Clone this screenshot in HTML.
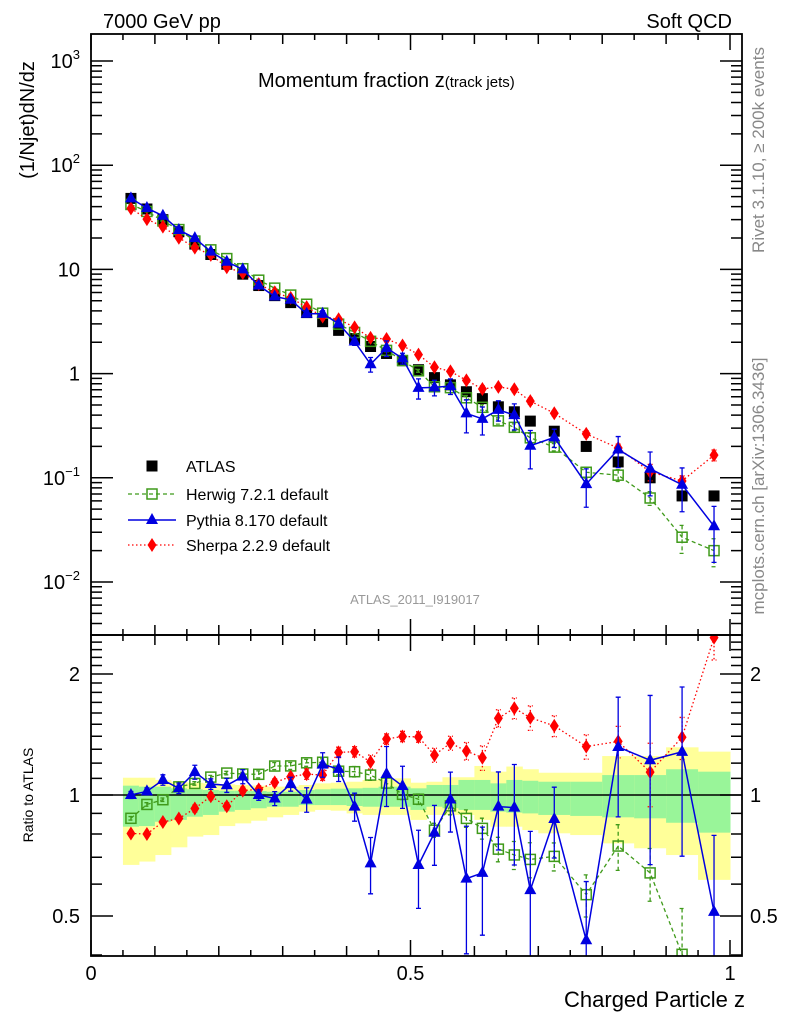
<!DOCTYPE html>
<html><head><meta charset="utf-8"><style>
html,body{margin:0;padding:0;background:#fff;}
svg{display:block;font-family:"Liberation Sans",Arial,sans-serif;}
</style></head><body>
<svg id="chart" xmlns="http://www.w3.org/2000/svg" width="786" height="1024" viewBox="0 0 786 1024">
<defs>
<clipPath id="clipMain"><rect x="91" y="34" width="651" height="601"/></clipPath>
<clipPath id="clipRatio"><rect x="91" y="635" width="651" height="321"/></clipPath>
</defs>
<g id="bands" clip-path="url(#clipRatio)"></g>
<g id="ratioMarks" clip-path="url(#clipRatio)"></g>
<g id="mainMarks" clip-path="url(#clipMain)"></g>
<g id="axes"></g>
<text x="103" y="28" font-size="20">7000 GeV pp</text>
<text x="732" y="28" font-size="20" text-anchor="end">Soft QCD</text>
<text x="258" y="87" font-size="20">Momentum fraction z<tspan font-size="15">(track jets)</tspan></text>
<text transform="translate(34,120) rotate(-90)" font-size="20" text-anchor="middle">(1/Njet)dN/dz</text>
<text transform="translate(33,795) rotate(-90)" font-size="14" text-anchor="middle">Ratio to ATLAS</text>
<text x="745" y="1007" font-size="22" text-anchor="end">Charged Particle z</text>
<text transform="translate(764,150) rotate(-90)" font-size="17" fill="#888" text-anchor="middle">Rivet 3.1.10, ≥ 200k events</text>
<text transform="translate(764,486) rotate(-90)" font-size="17" fill="#888" text-anchor="middle">mcplots.cern.ch [arXiv:1306.3436]</text>
<text x="415" y="604" font-size="13" fill="#999" text-anchor="middle">ATLAS_2011_I919017</text>
<g id="legend"></g>
</svg>
<script>
const zCenters=[0.0625,0.0875,0.1125,0.1375,0.1625,0.1875,0.2125,0.2375,0.2625,0.2875,0.3125,0.3375,0.3625,0.3875,0.4125,0.4375,0.4625,0.4875,0.5125,0.5375,0.5625,0.5875,0.6125,0.6375,0.6625,0.6875,0.725,0.775,0.825,0.875,0.925,0.975];
const binLo=[0.05,0.075,0.1,0.125,0.15,0.175,0.2,0.225,0.25,0.275,0.3,0.325,0.35,0.375,0.4,0.425,0.45,0.475,0.5,0.525,0.55,0.575,0.6,0.625,0.65,0.675,0.7,0.75,0.8,0.85,0.9,0.95];
const binHi=[0.075,0.1,0.125,0.15,0.175,0.2,0.225,0.25,0.275,0.3,0.325,0.35,0.375,0.4,0.425,0.45,0.475,0.5,0.525,0.55,0.575,0.6,0.625,0.65,0.675,0.7,0.75,0.8,0.85,0.9,0.95,1.0];
const atlas=[48,38,30,23,17.5,13.9,11.2,9.0,7.0,5.6,4.8,3.85,3.15,2.6,2.17,1.82,1.56,1.33,1.09,0.915,0.78,0.67,0.575,0.48,0.43,0.35,0.28,0.20,0.142,0.10,0.067,0.067];
const herwig=[42.0,36.0,29.2,24.1,18.7,15.4,12.7,10.15,7.88,6.61,5.67,4.63,3.80,2.98,2.48,2.04,1.67,1.335,1.064,0.748,0.733,0.586,0.475,0.352,0.305,0.242,0.197,0.113,0.106,0.064,0.0269,0.020];
const pythia=[48,38.8,32.7,23.9,19.95,14.8,11.84,10.0,7.0,5.49,5.11,3.75,3.75,3.02,2.03,1.23,1.76,1.40,0.730,0.737,0.760,0.415,0.368,0.449,0.400,0.203,0.244,0.087,0.187,0.122,0.0858,0.0343];
const sherpa=[38.5,30.4,25.7,20.1,16.2,13.8,10.5,9.23,7.23,6.02,5.33,4.34,3.53,3.32,2.78,2.20,2.15,1.86,1.52,1.15,1.05,0.862,0.712,0.745,0.707,0.545,0.416,0.264,0.193,0.114,0.0933,0.165];
const herwigErr=[0.01,0.01,0.01,0.01,0.01,0.01,0.01,0.01,0.02,0.02,0.02,0.02,0.02,0.02,0.03,0.03,0.03,0.03,0.03,0.04,0.05,0.05,0.06,0.07,0.08,0.1,0.08,0.12,0.13,0.15,0.3,0.3];
const pythiaErr=[0.02,0.02,0.03,0.03,0.04,0.03,0.04,0.04,0.03,0.04,0.04,0.07,0.07,0.07,0.08,0.16,0.17,0.12,0.22,0.17,0.17,0.35,0.3,0.22,0.28,0.4,0.2,0.4,0.33,0.45,0.45,0.55];
const sherpaErr=[0.01,0.01,0.01,0.01,0.02,0.02,0.02,0.02,0.02,0.02,0.02,0.03,0.03,0.03,0.03,0.04,0.03,0.03,0.03,0.04,0.04,0.05,0.07,0.05,0.06,0.07,0.06,0.07,0.09,0.18,0.12,0.12];
const bandYUp=[1.104,1.104,1.09,1.079,1.073,1.069,1.063,1.059,1.055,1.049,1.049,1.059,1.069,1.073,1.079,1.09,1.094,1.1,1.073,1.079,1.107,1.107,1.181,1.143,1.177,1.159,1.136,1.136,1.25,1.25,1.314,1.282];
const bandGUp=[1.055,1.049,1.049,1.039,1.033,1.029,1.025,1.025,1.023,1.019,1.019,1.029,1.033,1.037,1.039,1.042,1.049,1.049,1.039,1.059,1.059,1.09,1.09,1.069,1.09,1.085,1.079,1.079,1.121,1.121,1.159,1.143];
const bandGDn=[0.834,0.837,0.858,0.867,0.883,0.892,0.909,0.918,0.927,0.935,0.935,0.944,0.944,0.944,0.939,0.935,0.935,0.935,0.918,0.935,0.927,0.918,0.918,0.909,0.904,0.9,0.892,0.887,0.88,0.875,0.853,0.806];
const bandYDn=[0.67,0.683,0.709,0.741,0.788,0.795,0.837,0.85,0.863,0.88,0.892,0.909,0.918,0.914,0.9,0.892,0.892,0.892,0.867,0.892,0.892,0.892,0.867,0.834,0.834,0.818,0.803,0.795,0.758,0.737,0.709,0.615];
const xTickLabels=["0","0.5","1"];
const xTickVals=[0,0.5,1];
const yTickVals=[1000,100,10,1,0.1,0.01];
const yTickLabels=[["10","3"],["10","2"],["10",""],["1",""],["10","−1"],["10","−2"]];
const rTickVals=[2,1,0.5];
const rTickLabels=["2","1","0.5"];

const NS="http://www.w3.org/2000/svg";
const X=z=>91+639*z;
const YM=v=>373.6-104.2*Math.log10(v);
const YR=r=>795-121*Math.log2(r);
function mk(tag,attrs,parent){const e=document.createElementNS(NS,tag);for(const k in attrs)e.setAttribute(k,attrs[k]);parent.appendChild(e);return e;}
const GREEN="#3f9a1a",BLUE="#0000e0",RED="#ff0000";

const bands=document.getElementById('bands');
for(let i=0;i<zCenters.length;i++){
  const y=mk('rect',{x:X(binLo[i]),y:YR(bandYUp[i]),width:X(binHi[i])-X(binLo[i])+0.5,height:YR(bandYDn[i])-YR(bandYUp[i]),fill:"#ffff99"},bands);
  
  
  const g=mk('rect',{x:X(binLo[i]),y:YR(bandGUp[i]),width:X(binHi[i])-X(binLo[i])+0.5,height:YR(bandGDn[i])-YR(bandGUp[i]),fill:"#99f599"},bands);
  
  
}
const ref=mk('line',{x1:91,x2:742,y1:YR(1),y2:YR(1),stroke:"#000","stroke-width":1.5},bands);



function marker(type,cx,cy,color,parent){
  let e;
  if(type==='sqfill'){e=mk('rect',{x:cx-5.5,y:cy-5.5,width:11,height:11,fill:"#000"},parent);}
  else if(type==='sqopen'){e=mk('rect',{x:cx-5,y:cy-5,width:10,height:10,fill:"none",stroke:color,"stroke-width":1.5},parent);}
  else if(type==='tri'){e=mk('polygon',{points:`${cx},${cy-7} ${cx-6},${cy+4} ${cx+6},${cy+4}`,fill:color},parent);}
  else {e=mk('polygon',{points:`${cx},${cy-7} ${cx-4.5},${cy} ${cx},${cy+7} ${cx+4.5},${cy}`,fill:color},parent);}
  return e;
}
function series(name,vals,errs,color,type,dash,yf,norm,parent){
  const g=mk('g',{},parent);
  
  
  const pts=[];
  for(let i=0;i<vals.length;i++){
    const v=norm?vals[i]/atlas[i]:vals[i];
    pts.push(X(zCenters[i])+','+yf(v));
  }
  const pl=mk('polyline',{points:pts.join(' '),fill:"none",stroke:color,"stroke-width":type==='tri'?1.5:1.3,"stroke-dasharray":dash},g);
  
  
  for(let i=0;i<vals.length;i++){
    const v=norm?vals[i]/atlas[i]:vals[i];
    const cx=X(zCenters[i]);
    if(errs){
      const y1=yf(v*(1+errs[i])),y2=yf(Math.max(v*(1-errs[i]),1e-6));
      const eb=mk('path',{d:`M${cx},${y1}V${y2}M${cx-2.5},${y1}H${cx+2.5}M${cx-2.5},${y2}H${cx+2.5}`,stroke:color,"stroke-width":1.3,"stroke-dasharray":dash,fill:"none"},g);
      
      
    }
    const m=marker(type,cx,yf(v),color,g);
    
    
  }
}
const mainG=document.getElementById('mainMarks');
const ratioG=document.getElementById('ratioMarks');
const ag=mk('g',{},mainG);


for(let i=0;i<atlas.length;i++){
  const m=marker('sqfill',X(zCenters[i]),YM(atlas[i]),"#000",ag);
  
  
}
series('herwig',herwig,herwigErr,GREEN,'sqopen',"4,3",YM,false,mainG);
series('sherpa',sherpa,sherpaErr,RED,'dia',"1.5,2.5",YM,false,mainG);
series('pythia',pythia,pythiaErr,BLUE,'tri',"",YM,false,mainG);
series('herwig-ratio',herwig,herwigErr,GREEN,'sqopen',"4,3",YR,true,ratioG);
series('sherpa-ratio',sherpa,sherpaErr,RED,'dia',"1.5,2.5",YR,true,ratioG);
series('pythia-ratio',pythia,pythiaErr,BLUE,'tri',"",YR,true,ratioG);

const ax=document.getElementById('axes');
const fr1=mk('rect',{x:91,y:34,width:651,height:601,fill:"none",stroke:"#000","stroke-width":1.8},ax);


const fr2=mk('rect',{x:91,y:635,width:651,height:321,fill:"none",stroke:"#000","stroke-width":1.8},ax);


let d='';
for(let k=0;k<=20;k++){
  const z=k*0.05,x=X(z);
  const L=(k%10===0)?16:(k%2===0?10:6);
  d+=`M${x},34v${L}M${x},635v${-L}M${x},635v${L}M${x},956v${-L}`;
}
for(let e=-3;e<=3;e++){
  for(let m=1;m<=9;m++){
    const v=m*Math.pow(10,e),y=YM(v);
    if(y<34||y>635)continue;
    const L=m===1?22:11;
    d+=`M91,${y}h${L}M742,${y}h${-L}`;
  }
}
const rt=[0.4,0.5,0.6,0.7,0.8,0.9,1,1.1,1.2,1.3,1.4,1.5,1.6,1.7,1.8,1.9,2,2.1,2.2,2.3,2.4];
for(const r of rt){
  const y=YR(r);
  if(y<635||y>956)continue;
  const L=(r===0.5||r===1||r===2)?22:11;
  d+=`M91,${y}h${L}M742,${y}h${-L}`;
}
const tk=mk('path',{d:d,stroke:"#000","stroke-width":1.5,fill:"none"},ax);


for(let i=0;i<xTickVals.length;i++){
  const t=mk('text',{x:X(xTickVals[i]),y:980,"font-size":20,"text-anchor":"middle"},ax);
  t.textContent=xTickLabels[i];
  
  
}
for(let i=0;i<yTickVals.length;i++){
  const y=YM(yTickVals[i]);
  const t=mk('text',{x:80,y:y+7,"font-size":20,"text-anchor":"end"},ax);
  
  
  const s1=mk('tspan',{},t);s1.textContent=yTickLabels[i][0];
  if(yTickLabels[i][1]){const s2=mk('tspan',{dy:-9,"font-size":13},t);s2.textContent=yTickLabels[i][1];}
  else{const s3=mk('tspan',{"font-size":13,fill:"none"},t);s3.textContent=yTickVals[i]===10?"  ":"    ";}
}
for(let i=0;i<rTickVals.length;i++){
  const y=YR(rTickVals[i]);
  const t=mk('text',{x:80,y:y+7,"font-size":20,"text-anchor":"end"},ax);
  t.textContent=rTickLabels[i];
  
  
  const t2=mk('text',{x:750,y:y+7,"font-size":20},ax);
  t2.textContent=rTickLabels[i];
  
  
}
const lg=document.getElementById('legend');
const entries=[["ATLAS","atlas"],["Herwig 7.2.1 default","herwig"],["Pythia 8.170 default","pythia"],["Sherpa 2.2.9 default","sherpa"]];
const ly=[466,494,520,545];
for(let i=0;i<entries.length;i++){
  const g=mk('g',{},lg);
  
  
  const y=ly[i],key=entries[i][1];
  if(key==='herwig'){mk('line',{x1:128,x2:176,y1:y,y2:y,stroke:GREEN,"stroke-width":1.3,"stroke-dasharray":"4,3"},g);marker('sqopen',152,y,GREEN,g);}
  else if(key==='pythia'){mk('line',{x1:128,x2:176,y1:y,y2:y,stroke:BLUE,"stroke-width":1.5},g);marker('tri',152,y,BLUE,g);}
  else if(key==='sherpa'){mk('line',{x1:128,x2:176,y1:y,y2:y,stroke:RED,"stroke-width":1.3,"stroke-dasharray":"1.5,2.5"},g);marker('dia',152,y,RED,g);}
  else marker('sqfill',152,y,"#000",g);
  const t=mk('text',{x:186,y:y+6,"font-size":16},g);
  t.textContent=entries[i][0];
}
</script>
</body></html>
